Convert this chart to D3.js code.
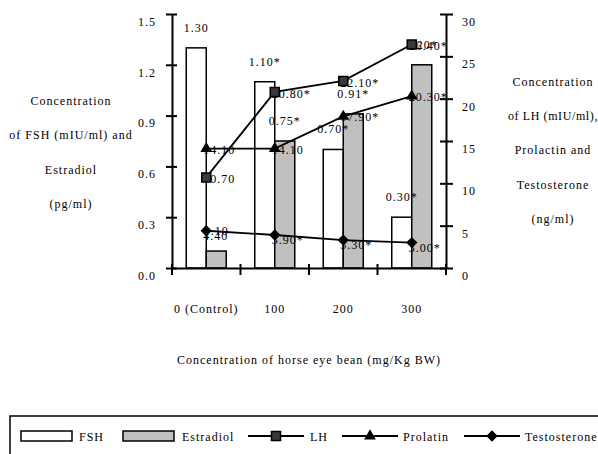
<!DOCTYPE html>
<html>
<head>
<meta charset="utf-8">
<script src="https://cdn.jsdelivr.net/npm/d3@7"></script>
<style>
body { margin: 0; background: #fff; }
text { font-family: "Liberation Serif", "Times New Roman", "DejaVu Serif", serif; font-size: 12px; letter-spacing: 1px; fill: #000; }
</style>
</head>
<body>
<svg id="chart" width="598" height="454"></svg>
<script>
var doses = ["0 (Control)", "100", "200", "300"];

var fsh = [1.30, 1.10, 0.70, 0.30];
var fshLabels = ["1.30", "1.10*", "0.70*", "0.30*"];
var estradiol = [0.10, 0.75, 0.91, 1.20];
var estradiolLabels = ["0.10", "0.75*", "0.91*", "1.20*"];

var lh = [10.70, 20.80, 22.10, 26.40];
var lhLabels = ["10.70", "20.80*", "22.10*", "26.40*"];
var prolactin = [14.10, 14.10, 17.90, 20.30];
var prolactinLabels = ["14.10", "14.10", "17.90*", "20.30*"];
var testosterone = [4.40, 3.90, 3.30, 3.00];
var testosteroneLabels = ["4.40", "3.90*", "3.30*", "3.00*"];

var leftTicks = [0, 0.3, 0.6, 0.9, 1.2, 1.5];
var rightTicks = [0, 5, 10, 15, 20, 25, 30];

var leftTitle = ["Concentration", "of FSH (mIU/ml) and", "Estradiol", "(pg/ml)"];
var rightTitle = ["Concentration", "of LH (mIU/ml),", "Prolactin and", "Testosterone", "(ng/ml)"];
var xTitle = "Concentration of horse eye bean (mg/Kg BW)";

var svg = d3.select('#chart');

var x = d3.scaleBand().domain(doses).range([172, 446]),
    yL = d3.scaleLinear().domain([0, 1.5]).range([268, 14]),
    yR = d3.scaleLinear().domain([0, 30]).range([268, 14]);

var barW = 20;
function mid(d) { return x(d) + x.bandwidth() / 2; }

// bars
var bars = svg.append('g');
bars.selectAll('rect.fsh').data(fsh).enter().append('rect')
    .attr('class', 'fsh')
    .attr('x', function (d, i) { return mid(doses[i]) - barW; })
    .attr('y', function (d) { return yL(d); })
    .attr('width', barW)
    .attr('height', function (d) { return yL(0) - yL(d); })
    .attr('fill', '#fff').attr('stroke', '#000').attr('stroke-width', 1.5);
bars.selectAll('rect.est').data(estradiol).enter().append('rect')
    .attr('class', 'est')
    .attr('x', function (d, i) { return mid(doses[i]); })
    .attr('y', function (d) { return yL(d); })
    .attr('width', barW)
    .attr('height', function (d) { return yL(0) - yL(d); })
    .attr('fill', '#c0c0c0').attr('stroke', '#000').attr('stroke-width', 1.5);

// axes
var axL = svg.append('g').attr('transform', 'translate(172,0)')
    .call(d3.axisLeft(yL).tickValues(leftTicks).tickFormat(d3.format('.1f')).tickSizeOuter(0).tickPadding(10));
axL.selectAll('.tick line').attr('x1', 5).attr('x2', -6);
axL.selectAll('.tick text').attr('dy', '0.95em');

var axR = svg.append('g').attr('transform', 'translate(446,0)')
    .call(d3.axisRight(yR).tickValues(rightTicks).tickSizeOuter(0).tickPadding(10));
axR.selectAll('.tick line').attr('x1', -6).attr('x2', 7);
axR.selectAll('.tick text').attr('dy', '0.95em');

var axB = svg.append('g').attr('transform', 'translate(0,268)')
    .call(d3.axisBottom(x).tickSize(0).tickSizeOuter(0).tickPadding(41));
axB.selectAll('.tick text').attr('dy', '0.35em');
var bounds = doses.map(function (d) { return x(d); }).concat([x.range()[1]]);
axB.selectAll('line.bound').data(bounds).enter().append('line')
    .attr('class', 'bound')
    .attr('x1', function (d) { return d; }).attr('x2', function (d) { return d; })
    .attr('y1', -4).attr('y2', 7)
    .attr('stroke', '#000').attr('stroke-width', 2);

svg.selectAll('.domain, .tick line').attr('stroke', '#000').attr('stroke-width', 2);
svg.selectAll('.tick text').style('font-size', '12px').style('font-family', '"Liberation Serif", serif');

// bar labels
var labels = svg.append('g');
labels.selectAll('text.fl').data(fsh).enter().append('text')
    .attr('x', function (d, i) { return mid(doses[i]) - barW / 2; })
    .attr('y', function (d) { return yL(d) - 16; })
    .attr('text-anchor', 'middle')
    .text(function (d, i) { return fshLabels[i]; });
labels.selectAll('text.el').data(estradiol).enter().append('text')
    .attr('x', function (d, i) { return mid(doses[i]) + barW / 2; })
    .attr('y', function (d) { return yL(d) - 16; })
    .attr('text-anchor', 'middle')
    .text(function (d, i) { return estradiolLabels[i]; });

// lines
var series = [
    { values: lh, labels: lhLabels, mark: 'square', dy: 6 },
    { values: prolactin, labels: prolactinLabels, mark: 'triangle', dy: 5 },
    { values: testosterone, labels: testosteroneLabels, mark: 'diamond', dy: 9 }
];
var line = d3.line()
    .x(function (d, i) { return mid(doses[i]); })
    .y(function (d) { return yR(d); });

series.forEach(function (s) {
    svg.append('path').datum(s.values)
        .attr('d', line).attr('fill', 'none')
        .attr('stroke', '#000').attr('stroke-width', 1.8);
});

series.forEach(function (s) {
    svg.append('g').selectAll('text').data(s.values).enter().append('text')
        .attr('x', function (d, i) { return mid(doses[i]) - 3; })
        .attr('y', function (d) { return yR(d) + s.dy; })
        .text(function (d, i) { return s.labels[i]; });
});

function marker(sel, kind) {
    if (kind === 'square') {
        sel.attr('d', d3.symbol(d3.symbolSquare, 81)).attr('fill', '#3a3a3a').attr('stroke', '#000').attr('stroke-width', 1.5);
    } else if (kind === 'triangle') {
        sel.attr('d', d3.symbol(d3.symbolTriangle, 60)).attr('fill', '#000');
    } else {
        sel.attr('d', d3.symbol(d3.symbolSquare, 64)).attr('fill', '#000');
    }
}

series.forEach(function (s) {
    svg.append('g').selectAll('path').data(s.values).enter().append('path')
        .attr('transform', function (d, i) {
            return 'translate(' + mid(doses[i]) + ',' + yR(d) + ')' + (s.mark === 'diamond' ? ' rotate(45)' : '');
        })
        .call(marker, s.mark);
});

// titles
svg.append('g').selectAll('text').data(leftTitle).enter().append('text')
    .attr('x', 71).attr('y', function (d, i) { return 105 + i * 34.3; })
    .attr('text-anchor', 'middle').text(function (d) { return d; });
svg.append('g').selectAll('text').data(rightTitle).enter().append('text')
    .attr('x', 553).attr('y', function (d, i) { return 86 + i * 34.2; })
    .attr('text-anchor', 'middle')
    .style('letter-spacing', function (d) { return d.length > 14 ? '0.6px' : null; })
    .text(function (d) { return d; });
svg.append('text').attr('x', 309).attr('y', 364)
    .attr('text-anchor', 'middle').text(xTitle);

// legend
var legendItems = [
    { name: 'FSH', kind: 'bar', fill: '#fff', x: 21, tx: 79 },
    { name: 'Estradiol', kind: 'bar', fill: '#c0c0c0', x: 123, tx: 182 },
    { name: 'LH', kind: 'square', x: 248, tx: 310 },
    { name: 'Prolatin', kind: 'triangle', x: 342, tx: 403 },
    { name: 'Testosterone', kind: 'diamond', x: 464, tx: 525 }
];
var lg = svg.append('g');
lg.append('rect').attr('x', 10).attr('y', 416).attr('width', 600).attr('height', 60)
    .attr('fill', 'none').attr('stroke', '#000').attr('stroke-width', 1.5);
var ly = 436;
legendItems.forEach(function (it) {
    if (it.kind === 'bar') {
        lg.append('rect').attr('x', it.x).attr('y', ly - 5).attr('width', 51).attr('height', 10)
            .attr('fill', it.fill).attr('stroke', '#000').attr('stroke-width', 1.5);
    } else {
        lg.append('line').attr('x1', it.x).attr('x2', it.x + 56).attr('y1', ly).attr('y2', ly)
            .attr('stroke', '#000').attr('stroke-width', 1.8);
        lg.append('path')
            .attr('transform', 'translate(' + (it.x + 28) + ',' + ly + ')' + (it.kind === 'diamond' ? ' rotate(45)' : ''))
            .call(marker, it.kind);
    }
    lg.append('text').attr('x', it.tx).attr('y', ly + 5).text(it.name);
});
</script>
</body>
</html>
